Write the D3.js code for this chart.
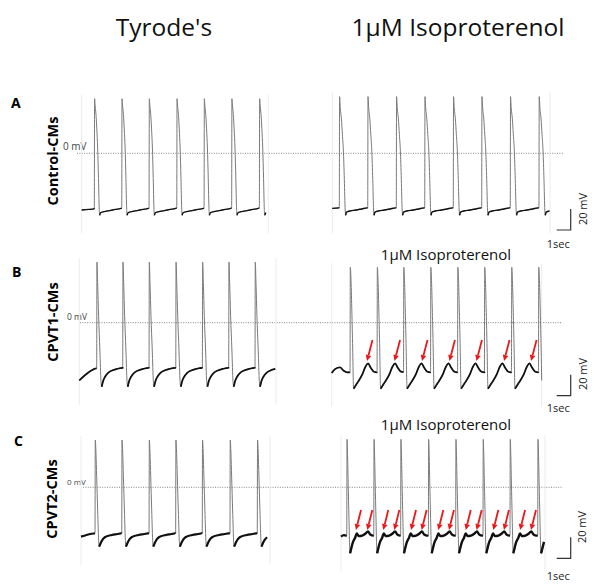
<!DOCTYPE html>
<html>
<head>
<meta charset="utf-8">
<script src="https://cdn.jsdelivr.net/npm/d3@7"></script>
<style>
  body { margin: 0; background: #fff; }
  svg { display: block; font-family: "Open Sans", sans-serif; }
</style>
</head>
<body>
<div id="chart"></div>
<script>
// Text
const columnTitles = ["Tyrode's", "1µM Isoproterenol"];
const panelLetters = ["A", "B", "C"];
const rowLabels = ["Control-CMs", "CPVT1-CMs", "CPVT2-CMs"];
const drugNote = "1µM Isoproterenol";

// Upstroke times (s from start of each trace)
const spikesA_tyrode = [0.90, 2.86, 4.81, 6.79, 8.74, 10.71, 12.69];
const spikesA_iso    = [0.50, 2.53, 4.57, 6.60, 8.64, 10.67, 12.71, 14.76];
const spikesB_tyrode = [1.24, 3.10, 4.98, 6.89, 8.79, 10.67, 12.55];
const spikesB_iso    = [1.31, 3.24, 5.13, 7.06, 8.99, 10.91, 12.84, 14.77];
const spikesC_tyrode = [1.00, 2.91, 4.86, 6.76, 8.66, 10.64, 12.59];
const spikesC_iso    = [0.41, 2.34, 4.26, 6.24, 8.19, 10.14, 12.07, 14.05];

// One action potential: [s after upstroke, mV]
const apA_tyrode = [[0,-52],[0.02,52],[0.06,45],[0.12,37],[0.18,23],[0.24,5],[0.3,-24],[0.35,-52],[0.38,-59],[0.46,-56.5],[0.7,-55.5],[1.1,-54.5],[1.5,-53.5],[1.9,-52.5]];
const apA_iso    = [[0,-52],[0.02,54],[0.07,43],[0.15,33],[0.22,18],[0.29,3],[0.36,-25],[0.42,-54],[0.45,-59],[0.52,-56],[0.75,-55],[1.2,-54],[1.6,-53],[2.0,-52]];
const apB_tyrode = [[0,-43.5],[0.02,57.7],[0.07,38],[0.14,6],[0.23,-26],[0.31,-56],[0.36,-61],[0.45,-56],[0.6,-51.5],[0.8,-48],[1.1,-45.5],[1.45,-44],[1.86,-43]];
const apB_iso    = [[0,-47],[0.02,52.8],[0.07,40],[0.13,10],[0.19,-25],[0.23,-55],[0.25,-63],[0.5,-57.7],[0.86,-49.8],[1.1,-42],[1.29,-38.7],[1.46,-42.5],[1.71,-46.7],[1.92,-47.2]];
const apC_tyrode = [[0,-44],[0.02,45],[0.07,32.4],[0.12,10],[0.19,-21.6],[0.27,-53],[0.3,-56.6],[0.45,-51.8],[0.7,-47.6],[1.2,-45.4],[1.6,-44.5],[1.88,-43.8]];
const apC_iso    = [[0,-46],[0.02,45.7],[0.06,30],[0.1,5],[0.16,-30],[0.21,-58],[0.24,-62.9],[0.45,-52],[0.6,-48],[0.72,-44],[0.85,-46.5],[1.1,-46],[1.35,-44],[1.52,-42],[1.68,-45],[1.9,-46]];

// Lead-in before the first spike, and where each trace stops (s)
const startA_tyrode = [[0,-54],[0.5,-53.5],[0.88,-53]];
const startA_iso    = [[0,-52.5],[0.48,-52]];
const startB_tyrode = [[0,-55],[0.4,-50],[0.8,-46],[1.22,-43.5]];
const startB_iso    = [[0,-48],[0.25,-44],[0.6,-42.6],[0.85,-45.7],[1.1,-47.3],[1.29,-47.2]];
const startC_tyrode = [[0,-47],[0.4,-45.4],[0.9,-44]];
const startC_iso    = [[0,-47],[0.2,-45.5],[0.39,-46]];
const traceEnds = [[13.33, 15.55], [14.05, 15.0], [13.5, 14.57]];

// Red arrows (tip: s, mV) marking the delayed afterdepolarisations
const arrowsB_iso = [[2.52,-36.5],[4.49,-36.5],[6.45,-36.5],[8.41,-36.5],[10.34,-36.5],[12.31,-36.5],[14.24,-36.5]];
const arrowsC_iso = [[1.07,-40.7],[1.88,-40.7],[3.02,-40.7],[3.81,-40.7],[5.0,-40.7],[5.76,-40.7],[6.95,-40.7],[7.71,-40.7],
                     [8.91,-40.7],[9.69,-40.7],[10.88,-40.7],[11.64,-40.7],[12.79,-40.7],[13.57,-40.7]];

// Scale bar
const barMv = 20, barSec = 1;

const width = 600, height = 584;
const pxPerSec = 14, pxPerMv = 1.05;

const svg = d3.select("#chart").append("svg")
    .attr("width", width)
    .attr("height", height);

// column titles
svg.selectAll(".col-title")
    .data(columnTitles)
    .enter().append("text")
    .attr("x", (d, i) => [164, 458][i])
    .attr("y", 36)
    .attr("text-anchor", "middle")
    .style("font-size", "24.5px")
    .attr("fill", "#111")
    .text(d => d);

const panels = [
    {zero: 153.3, letterPos: [11, 108], labelPos: [58, 161], zeroLabel: [63, 150, 10], dash: [77, 563], bar: 230,
     mvLabel: [586.5, 209], secLabel: 248, lineW: [1.3, 1.4],
     traces: [
        {x0: 81.7, start: startA_tyrode, spikes: spikesA_tyrode, ap: apA_tyrode},
        {x0: 332.3, start: startA_iso, spikes: spikesA_iso, ap: apA_iso}]},
    {zero: 322.7, letterPos: [12, 277], labelPos: [57.5, 322], zeroLabel: [67, 320, 8.5], dash: [80, 562], bar: 395.7,
     mvLabel: [586.5, 374], secLabel: 412, lineW: [1.8, 1.8], note: 260, arrows: arrowsB_iso, arrowTail: [5.5, -21],
     traces: [
        {x0: 79.3, start: startB_tyrode, spikes: spikesB_tyrode, ap: apB_tyrode},
        {x0: 331.7, start: startB_iso, spikes: spikesB_iso, ap: apB_iso}]},
    {zero: 487.3, letterPos: [14, 446], labelPos: [57, 499], zeroLabel: [67, 484.5, 8], dash: [83, 563], bar: 558.3,
     mvLabel: [585.5, 527], secLabel: 579.5, lineW: [2.2, 2.4], note: 430, arrows: arrowsC_iso, arrowTail: [5, -20],
     traces: [
        {x0: 81, start: startC_tyrode, spikes: spikesC_tyrode, ap: apC_tyrode},
        {x0: 341, start: startC_iso, spikes: spikesC_iso, ap: apC_iso}]}
];

// stitch the lead-in and one AP per spike into a single trace
function buildTrace(tr, end) {
    const minIdx = d3.minIndex(tr.ap, d => d[1]);
    const pts = tr.start.map(p => ({t: p[0], v: p[1], slow: true}));
    tr.spikes.forEach((s, i) => {
        const limit = (i < tr.spikes.length - 1 ? tr.spikes[i + 1] : end) - s;
        tr.ap.forEach((p, j) => {
            if (p[0] < limit + 1e-6) pts.push({t: s + p[0], v: p[1], slow: j === 0 || j >= minIdx});
        });
    });
    return pts;
}

panels.forEach((p, pi) => {
    const g = svg.append("g");
    const y = d3.scaleLinear().domain([0, barMv]).range([p.zero, p.zero - barMv * pxPerMv]);

    g.append("text")
        .attr("x", p.letterPos[0]).attr("y", p.letterPos[1])
        .style("font-size", "14px").style("font-weight", "bold")
        .text(panelLetters[pi]);

    g.append("text")
        .attr("transform", `translate(${p.labelPos[0]},${p.labelPos[1]}) rotate(-90)`)
        .attr("text-anchor", "middle")
        .style("font-size", "14.5px").style("font-weight", "bold")
        .text(rowLabels[pi]);

    g.append("text")
        .attr("x", p.zeroLabel[0]).attr("y", p.zeroLabel[1])
        .style("font-size", p.zeroLabel[2] + "px")
        .attr("fill", "#444")
        .text("0 mV");

    // 0 mV dotted reference
    g.append("line")
        .attr("x1", p.dash[0]).attr("x2", p.dash[1])
        .attr("y1", y(0)).attr("y2", y(0))
        .attr("stroke", "#666").attr("stroke-width", 0.8)
        .attr("stroke-dasharray", "1,1.4");

    if (p.note) {
        g.append("text")
            .attr("x", 446).attr("y", p.note)
            .attr("text-anchor", "middle")
            .style("font-size", "15px")
            .attr("fill", "#111")
            .text(drugNote);
    }

    p.traces.forEach((tr, ti) => {
        const end = traceEnds[pi][ti];
        const x = d3.scaleLinear().domain([0, barSec]).range([tr.x0, tr.x0 + barSec * pxPerSec]);
        const pts = buildTrace(tr, end);
        const vmax = d3.max(pts, d => d.v), vmin = d3.min(pts, d => d.v);

        // faint frame edges of the original recording
        [0, end].forEach(t => {
            g.append("line")
                .attr("x1", x(t)).attr("x2", x(t))
                .attr("y1", y(vmax) - 4).attr("y2", y(vmin) + 18)
                .attr("stroke", "#ececec").attr("stroke-width", 1);
        });

        const line = d3.line().x(d => x(d.t)).y(d => y(d.v)).curve(d3.curveMonotoneX);

        g.append("path")
            .attr("d", line(pts))
            .attr("fill", "none")
            .attr("stroke", "#7a7a7a")
            .attr("stroke-width", 1);

        g.append("path")
            .attr("d", line.defined(d => d.slow)(pts))
            .attr("fill", "none")
            .attr("stroke", "#111")
            .attr("stroke-width", p.lineW[ti])
            .attr("stroke-linejoin", "round");

        // arrows sit on the isoproterenol trace
        if (ti === 1 && p.arrows) {
            const [dx, dy] = p.arrowTail;
            const len = Math.hypot(dx, dy), ux = -dx / len, uy = -dy / len;
            p.arrows.forEach(a => {
                const tx = x(a[0]), ty = y(a[1]);
                const bx = tx - ux * 6, by = ty - uy * 6;
                g.append("line")
                    .attr("x1", tx + dx).attr("y1", ty + dy)
                    .attr("x2", bx).attr("y2", by)
                    .attr("stroke", "#e8191c").attr("stroke-width", 1.8);
                g.append("path")
                    .attr("d", `M${tx},${ty}L${bx - uy * 2.8},${by + ux * 2.8}L${bx + uy * 2.8},${by - ux * 2.8}Z`)
                    .attr("fill", "#e8191c");
            });
        }
    });

    // scale bar: 20 mV by 1 sec
    const bx = 570.7;
    const xs = d3.scaleLinear().domain([0, barSec]).range([bx - barSec * pxPerSec, bx]);
    const barH = y(0) - y(barMv);
    g.append("path")
        .attr("d", `M${xs(0)},${p.bar}H${xs(barSec)}V${p.bar - barH}`)
        .attr("fill", "none")
        .attr("stroke", "#333")
        .attr("stroke-width", 1.2);
    g.append("text")
        .attr("transform", `translate(${p.mvLabel[0]},${p.mvLabel[1]}) rotate(-90)`)
        .attr("text-anchor", "middle")
        .style("font-size", "11px")
        .attr("fill", "#222")
        .text(barMv + " mV");
    g.append("text")
        .attr("x", 558.3).attr("y", p.secLabel)
        .attr("text-anchor", "middle")
        .style("font-size", "11px")
        .attr("fill", "#222")
        .text(barSec + "sec");
});
</script>
</body>
</html>
